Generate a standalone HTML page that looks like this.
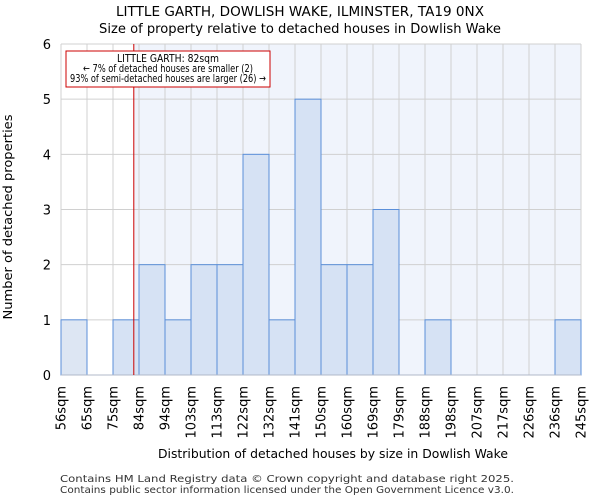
<!DOCTYPE html>
<html><head><meta charset="utf-8"><style>
body{margin:0;background:#fff;font-family:"DejaVu Sans","Liberation Sans",sans-serif}
</style></head><body>
<svg id="c" width="600" height="500" xmlns="http://www.w3.org/2000/svg" font-family="DejaVu Sans, Liberation Sans, sans-serif">
<text x="300" y="16" text-anchor="middle" font-size="13" textLength="368" lengthAdjust="spacingAndGlyphs">LITTLE GARTH, DOWLISH WAKE, ILMINSTER, TA19 0NX</text>
<text x="300" y="33" text-anchor="middle" font-size="13" textLength="402" lengthAdjust="spacingAndGlyphs">Size of property relative to detached houses in Dowlish Wake</text>
<g id="plot"></g>
<text x="333" y="458" text-anchor="middle" font-size="12.5" textLength="350" lengthAdjust="spacingAndGlyphs">Distribution of detached houses by size in Dowlish Wake</text>
<text transform="translate(12,217) rotate(-90)" text-anchor="middle" font-size="12.5" textLength="205" lengthAdjust="spacingAndGlyphs">Number of detached properties</text>
<text x="60" y="482" font-size="10" fill="#333" textLength="454" lengthAdjust="spacingAndGlyphs">Contains HM Land Registry data © Crown copyright and database right 2025.</text>
<text x="60" y="493" font-size="10" fill="#333" textLength="454" lengthAdjust="spacingAndGlyphs">Contains public sector information licensed under the Open Government Licence v3.0.</text>
</svg>
<script>
const categories=["56sqm","65sqm","75sqm","84sqm","94sqm","103sqm","113sqm","122sqm","132sqm","141sqm","150sqm","160sqm","169sqm","179sqm","188sqm","198sqm","207sqm","217sqm","226sqm","236sqm","245sqm"];
const counts=[1,0,1,2,1,2,2,4,1,5,2,2,3,0,1,0,0,0,0,1];
const yTicks=[0,1,2,3,4,5,6];
const markerBin=2.8;
const NS="http://www.w3.org/2000/svg";
const g=document.getElementById('plot');
const L=61,R=581,T=44,B=375,ymax=6;
const bw=(R-L)/counts.length;
const xs=i=>L+i*bw;
const ys=v=>B-(v/ymax)*(B-T);
function mk(t,a){const e=document.createElementNS(NS,t);for(const k in a)e.setAttribute(k,a[k]);g.appendChild(e);return e;}
const mx=xs(markerBin);
let e=mk('rect',{x:mx,y:T,width:R-mx,height:B-T,fill:'#f0f4fc'});


for(let i=0;i<=counts.length;i++){e=mk('line',{x1:xs(i),x2:xs(i),y1:T,y2:B,stroke:'#d0d0d0'});

}
yTicks.forEach(v=>{e=mk('line',{x1:L,x2:R,y1:ys(v),y2:ys(v),stroke:'#d0d0d0'});


e=mk('text',{x:L-10,y:ys(v)+5,'text-anchor':'end','font-size':13});e.textContent=v;

});
counts.forEach((v,i)=>{if(v<=0)return;
e=mk('rect',{x:xs(i),y:ys(v),width:bw,height:ys(0)-ys(v),fill:(i+1)<=markerBin?'#dde6f3':'#d6e2f4',stroke:'#5b8fd9','stroke-width':1});

});
categories.forEach((c,i)=>{e=mk('text',{transform:`translate(${xs(i)+4.5},386) rotate(-90)`,'text-anchor':'end','font-size':13});e.textContent=c;

});
e=mk('line',{x1:L,x2:R,y1:B,y2:B,stroke:'#b0b8c8'});


e=mk('line',{x1:mx,x2:mx,y1:T,y2:B,stroke:'#cc0000','stroke-width':1});


e=mk('rect',{x:66,y:51,width:204,height:36,fill:'#fff',stroke:'#cc0000'});


[["LITTLE GARTH: 82sqm",102],["← 7% of detached houses are smaller (2)",170],["93% of semi-detached houses are larger (26) →",196]].forEach((t,k)=>{
e=mk('text',{x:168,y:62+k*10,'text-anchor':'middle','font-size':11,textLength:t[1],lengthAdjust:'spacingAndGlyphs'});e.textContent=t[0];

});
</script>
</body></html>
